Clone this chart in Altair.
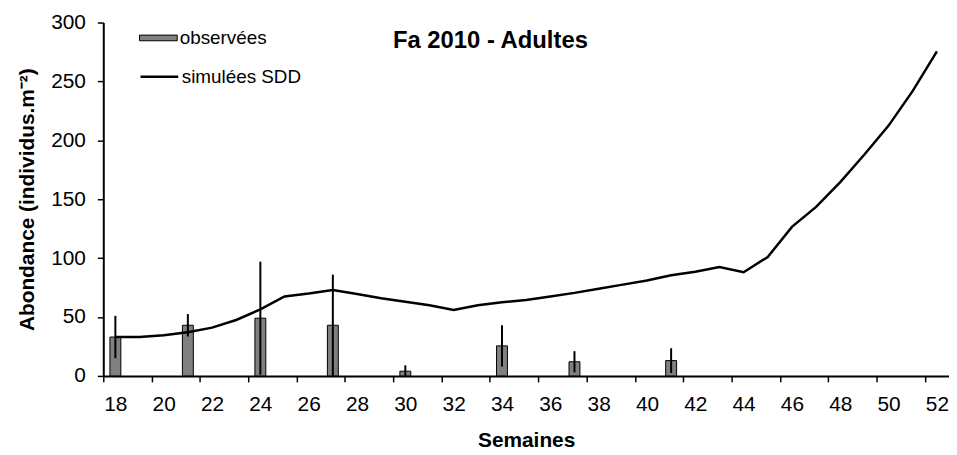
import altair as alt
import pandas as pd

FONT = "Liberation Sans"

# Simulated abundance (line), weeks 18..52
weeks = list(range(18, 53))
simulees = [33, 33, 34.5, 37, 41, 47.5, 56.5, 67.5, 70, 73,
            69.5, 66, 63, 60, 56, 60, 62.5, 64.5, 67.5, 70.5,
            74, 77.5, 81, 85.5, 88.5, 92.5, 88, 101, 126.5, 143.5,
            164.5, 188, 212.5, 242, 275.5]

# Observed abundance (bars) with error bars
obs_weeks = [18, 21, 24, 27, 30, 34, 37, 41]
obs_mean = [33, 43, 49, 43, 4, 25.5, 12, 13]
obs_err = [18, 9.5, 48, 43, 5, 17.5, 9, 10.5]

W = 852
H = 356

obs_df = pd.DataFrame({"semaine": obs_weeks, "obs": obs_mean, "err": obs_err})
obs_df["serie"] = "observées"
obs_df["lo"] = (obs_df["obs"] - obs_df["err"]).clip(lower=0)
obs_df["hi"] = obs_df["obs"] + obs_df["err"]

sim_df = pd.DataFrame({"semaine": weeks, "sim": simulees})
sim_df["serie"] = "simulées SDD"

x_scale = alt.Scale(domain=[17.5, 52.5], nice=False, zero=False, padding=0)
y_scale = alt.Scale(domain=[0, 300], nice=False)

tick_values = [w - 0.5 for w in weeks] + [52.5]
band_px = W / 35.0

x_axis = alt.Axis(
    values=tick_values,
    title="Semaines",
    labelExpr="(datum.value + 0.5) % 2 == 0 ? format(datum.value + 0.5, 'd') : ''",
    labelOffset=band_px / 2,
    labelFlush=False,
    labelOverlap=False,
    labelBound=False,
    grid=False,
    tickSize=6,
    tickWidth=1.5,
    domainWidth=2,
    labelPadding=12,
    labelFontSize=21,
    titleFontSize=21,
    titlePadding=15,
)

y_axis = alt.Axis(
    values=[0, 50, 100, 150, 200, 250, 300],
    title="Abondance (individus.m⁻²)",
    grid=False,
    tickSize=6,
    tickWidth=1.5,
    domainWidth=2,
    labelPadding=12,
    labelFontSize=21,
    titleFontSize=21,
    titlePadding=13,
    labelFlush=False,
)

bars = alt.Chart(obs_df).mark_bar(size=11, stroke="black", strokeWidth=1).encode(
    x=alt.X("semaine:Q", scale=x_scale, axis=x_axis),
    y=alt.Y("obs:Q", scale=y_scale, axis=y_axis),
    fill=alt.Fill(
        "serie:N",
        scale=alt.Scale(range=["#808080"]),
        legend=alt.Legend(
            title=None,
            orient="none",
            legendX=36,
            legendY=-4,
            padding=0,
            symbolType="M-1,-0.15H1V0.15H-1Z",
            symbolSize=1444,
            symbolStrokeColor="black",
            symbolStrokeWidth=1,
            symbolOpacity=1,
            labelFontSize=19,
            labelFont=FONT,
            labelColor="black",
            labelOffset=2,
        ),
    ),
)

errs = alt.Chart(obs_df).mark_rule(color="black", strokeWidth=2).encode(
    x=alt.X("semaine:Q", scale=x_scale),
    y=alt.Y("lo:Q", scale=y_scale),
    y2="hi:Q",
)

line = alt.Chart(sim_df).mark_line(strokeWidth=2.5).encode(
    x=alt.X("semaine:Q", scale=x_scale),
    y=alt.Y("sim:Q", scale=y_scale),
    stroke=alt.Stroke(
        "serie:N",
        scale=alt.Scale(range=["black"]),
        legend=alt.Legend(
            title=None,
            orient="none",
            legendX=36,
            legendY=34,
            padding=0,
            symbolType="stroke",
            symbolSize=1444,
            symbolStrokeWidth=2.5,
            labelFontSize=19,
            labelFont=FONT,
            labelColor="black",
            labelOffset=2,
        ),
    ),
)

chart = (
    alt.layer(bars, line, errs)
    .resolve_legend(fill="independent", stroke="independent")
    .properties(
        width=W,
        height=H,
        padding={"left": 8, "top": 2, "right": 0, "bottom": 0},
        title=alt.Title(
            "Fa 2010 - Adultes",
            fontSize=24,
            fontWeight="bold",
            font=FONT,
            color="black",
            anchor="middle",
            dx=-36,
            dy=42,
            offset=0,
        ),
    )
    .configure(font=FONT, background="white")
    .configure_view(stroke=None)
    .configure_axis(
        domainColor="black",
        tickColor="black",
        labelColor="black",
        titleColor="black",
        labelFont=FONT,
        titleFont=FONT,
        titleFontWeight="bold",
    )
)

chart.save("out.html", embed_options={"renderer": "svg", "actions": False})
